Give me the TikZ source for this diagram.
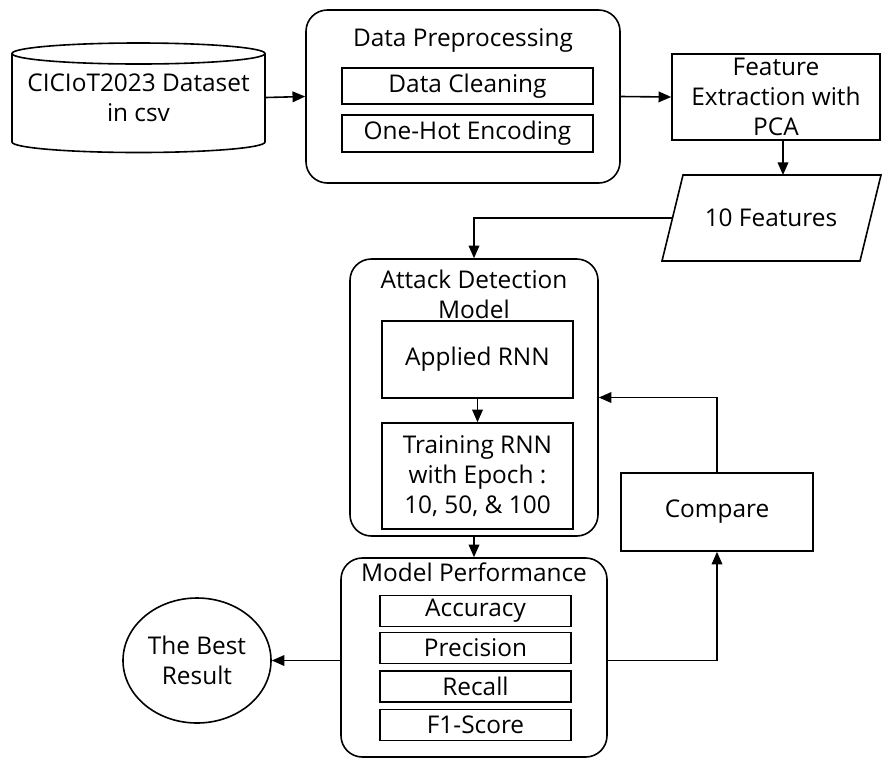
\documentclass[tikz,border=0pt]{standalone}
\usepackage{fontspec}
\setmainfont{Open Sans}
\usepackage{tikz}
\usetikzlibrary{arrows.meta,shapes.geometric,calc}

\begin{document}
\begin{tikzpicture}[
    >={Triangle[length=9.5pt,width=8pt]},
    x=0.75pt, y=-0.75pt,
    line width=1.2pt,
    every node/.style={font=\fontsize{18.3}{22.5}\selectfont,align=center},
    txt/.style={inner sep=0pt},
    group/.style={draw,rounded corners=16pt,inner sep=0pt},
    box/.style={draw,inner sep=0pt,minimum width=143.25pt},
    item/.style={box,minimum height=23pt},
    flow/.style={->},
  ]
  \useasboundingbox (0,0) rectangle (882,758);

  % --- dataset (cylinder drawn round a text node) ---
  \node[txt,minimum width=189.75pt,minimum height=81.75pt] (csv) at (138.5,97.5)
    {CICIoT2023 Dataset\\in csv};
  \draw (12,53.5) -- (12,142)
        arc[start angle=180,end angle=360,x radius=94.875pt,y radius=7.875pt]
        -- (265,53.5);
  \draw (138.5,53.5) ellipse[x radius=94.875pt,y radius=7.875pt];

  % --- preprocessing group ---
  \node[group,minimum width=235.5pt,minimum height=129.75pt] (prep) at (463,96.5) {};
  \node[txt] (preptitle) at (463,40) {Data Preprocessing};
  \node[box,minimum width=188.25pt,minimum height=27pt] (clean) at (467.5,86) {Data Cleaning};
  \node[box,minimum width=188.25pt,minimum height=27.75pt] (onehot) at (467.5,133.5) {One-Hot Encoding};

  % --- feature extraction ---
  \node[box,minimum width=156pt,minimum height=64.5pt] (feat) at (776,97)
    {Feature\\Extraction with\\PCA};
  % parallelogram drawn round a text node
  \node[txt] (ften) at (771,218) {10 Features};
  \draw (662,261) -- (683,175) -- (881,175) -- (860,261) -- cycle;
  \coordinate (fin) at (672.5,218);
  \coordinate (fx) at (783,0);
  \coordinate (ftop) at (0,175);

  % --- attack detection model ---
  \node[group,minimum width=186pt,minimum height=207.75pt] (attack) at (474,397.5) {};
  \node[txt] (attacktitle) at (474,294.5) {Attack Detection\\Model};
  \node[box,minimum height=57.75pt] (apply) at (477.5,359.5) {Applied RNN};
  \node[box,minimum height=79.5pt] (train) at (477.5,476)
    {Training RNN\\with Epoch :\\10, 50, \& 100};

  % --- compare ---
  \node[box,minimum width=144pt,minimum height=58.5pt] (cmp) at (717,512) {Compare};

  % --- model performance ---
  \node[group,minimum width=199.5pt,minimum height=149.25pt] (perf) at (474,657.5) {};
  \node[txt] (perftitle) at (474,572) {Model Performance};
  \node[item] (acc)  at (475.5,611)   {Accuracy};
  \node[item] (prec) at (475.5,648)   {Precision};
  \node[item] (rec)  at (475.5,686.5) {Recall};
  \node[item] (fone) at (475.5,725)   {F1-Score};

  % --- result ---
  \node[draw,ellipse,inner sep=0pt,minimum width=111pt,minimum height=93.75pt] (best)
    at (197,660.5) {The Best\\Result};

  % --- connectors ---
  \draw[flow] (csv.east) -- (prep.west);
  \draw[flow] (prep.east) -- (feat.west);
  \draw[flow] (feat.south -| fx) -- (ftop -| fx);
  \draw[flow] (fin) -| (attack.north);
  \draw[flow] (apply.south) -- (train.north);
  \draw[flow] (attack.south) -- (perf.north);
  \draw[flow] (cmp.north) |- (attack.east);
  \draw[flow] (best.east -| perf.east) -| (cmp.south);
  \draw[flow] (best.east -| perf.west) -- (best.east);
\end{tikzpicture}
\end{document}
